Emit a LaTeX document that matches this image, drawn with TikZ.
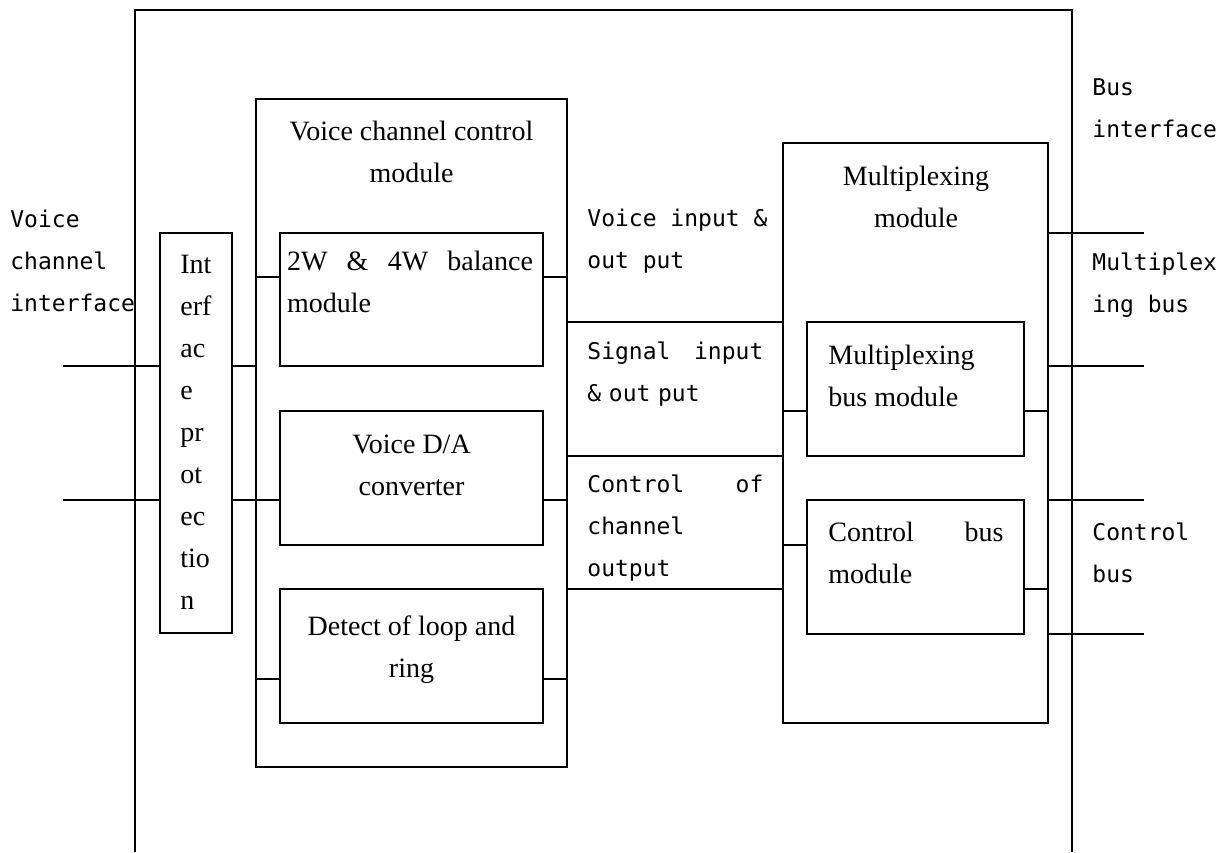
\documentclass[tikz,border=0pt]{standalone}
\usepackage{fontspec}
\setmainfont{Liberation Serif}
\setmonofont{DejaVu Sans Mono}
\usepackage{tikz}
\usepackage{xcolor}
\usetikzlibrary{positioning}

\tikzset{
  box/.style={draw, line width=1pt, inner sep=0pt},
  txt/.style={font=\fontsize{14}{21}\selectfont, inner sep=0pt},
  lbl/.style={font=\ttfamily\fontsize{11.5}{21}\selectfont, inner sep=0pt, align=left, anchor=west},
  wire/.style={line width=1pt}
}

\begin{document}
\begin{tikzpicture}[x=0.5pt, y=-0.5pt]
\useasboundingbox (0,0) rectangle (1227,852);
% Draw the outer board (open at the bottom)
\draw[wire] (135,852) |- (1072,10) -- (1072,852);
% Interface protection
\node[box, minimum width=36pt, minimum height=200pt] (prot) at (196,433) {};
\node[txt, align=left, anchor=west] at (180,432) {Int\\erf\\ac\\e\\pr\\ot\\ec\\tio\\n};
% Voice channel control module and its parts
\node[box, minimum width=155.5pt, minimum height=334pt] (vcc) at (411.5,433) {};
\node[txt, align=center] at (411.5,152) {Voice channel control\\module};
\node[box, minimum width=131.5pt, minimum height=66.5pt] (bal) at (411.5,299.5) {};
\node[txt, align=left, text width=123pt] at (410,282) {2W\hfill\&\hfill 4W\hfill balance\\module};
\node[box, minimum width=131.5pt, minimum height=67pt] (dac) at (411.5,478) {};
\node[txt, align=center] at (411.5,465) {Voice D/A\\converter};
\node[box, minimum width=131.5pt, minimum height=67pt] (det) at (411.5,656) {};
\node[txt, align=center] at (411.5,650) {Detect of loop and\\ring};
% Multiplexing module and its parts
\node[box, minimum width=132.5pt, minimum height=290pt] (mux) at (915.5,433) {};
\node[txt, align=center] at (916,197) {Multiplexing\\module};
\node[box, minimum width=108.5pt, minimum height=67pt] (mbus) at (915.5,389) {};
\node[txt, align=left, anchor=west] at (828,376) {Multiplexing\\bus module};
\node[box, minimum width=108.5pt, minimum height=67pt] (cbus) at (915.5,567) {};
\node[txt, align=left, text width=87.5pt, anchor=west] at (828,553) {Control\hfill bus\\module};
% Labels
\node[lbl] at (10,261) {Voice\\channel\\interface};
\node[lbl] at (587,241) {Voice input \&\\out put};
\node[lbl, text width=88pt] at (587,374) {Signal\hfill input\\\& out put};
\node[lbl, text width=88pt] at (587,528) {Control\hfill of\\channel\\output};
\node[lbl] at (1092,108) {Bus\\interface};
\node[lbl] at (1092,285) {Multiplex\\ing bus};
\node[lbl] at (1092,553) {Control\\bus};
% Wire levels
\coordinate (in1) at (63,366);
\coordinate (in2) at (63,500);
\coordinate (lb) at (0,277);
\coordinate (ld) at (0,500);
\coordinate (lr) at (0,679);
\coordinate (m1) at (0,322);
\coordinate (m2) at (0,456);
\coordinate (m3) at (0,589);
\coordinate (mb) at (0,411);
\coordinate (cl) at (0,545);
\coordinate (cr) at (0,589);
% Voice channel side
\draw[wire] (in1) -- (in1 -| prot.west);
\draw[wire] (in2) -- (in2 -| prot.west);
\draw[wire] (in1 -| prot.east) -- (in1 -| vcc.west);
\draw[wire] (in2 -| prot.east) -- (in2 -| vcc.west);
\draw[wire] (lb -| vcc.west) -- (lb -| bal.west);
\draw[wire] (ld -| vcc.west) -- (ld -| dac.west);
\draw[wire] (lr -| vcc.west) -- (lr -| det.west);
\draw[wire] (lb -| bal.east) -- (lb -| vcc.east);
\draw[wire] (ld -| dac.east) -- (ld -| vcc.east);
\draw[wire] (lr -| det.east) -- (lr -| vcc.east);
% Between the two modules
\foreach \m in {m1,m2,m3}
  \draw[wire] (\m -| vcc.east) -- (\m -| mux.west);
% Inside the multiplexing module
\draw[wire] (mb -| mux.west) -- (mb -| mbus.west);
\draw[wire] (mb -| mbus.east) -- (mb -| mux.east);
\draw[wire] (cl -| mux.west) -- (cl -| cbus.west);
\draw[wire] (cr -| cbus.east) -- (cr -| mux.east);
% Bus side
\foreach \y in {233,366,500,634} {
  \coordinate (b\y) at (1144,\y);
  \draw[wire] (b\y -| mux.east) -- (b\y);
}
\end{tikzpicture}
\end{document}
